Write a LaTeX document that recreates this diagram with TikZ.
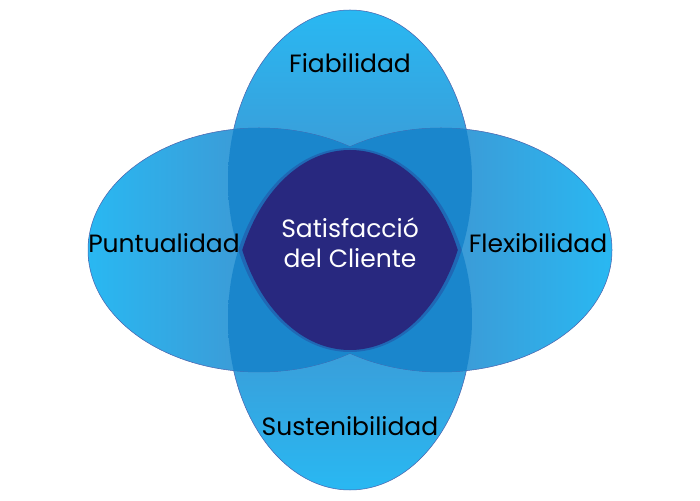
\documentclass[tikz,border=0pt]{standalone}
\usepackage{fontspec}
\setmainfont{Poppins}
\definecolor{cout}{RGB}{41,184,242}
\definecolor{cin}{RGB}{82,120,182}
\definecolor{ovA}{RGB}{26,134,204}
\definecolor{ovB}{RGB}{38,76,158}
\definecolor{band}{RGB}{31,104,181}
\definecolor{navy}{RGB}{40,40,127}
\definecolor{edge}{RGB}{73,96,172}
\tikzset{
  petal/.style={draw=edge, line width=0.5pt},
  lbl/.style={anchor=base, font=\fontsize{25}{30}\selectfont, text=black, inner sep=0pt},
  clbl/.style={anchor=base, font=\fontsize{25}{30}\selectfont, text=white, inner sep=0pt}
}
\begin{document}
\begin{tikzpicture}[x=1pt,y=1pt]
\useasboundingbox[fill=white] (0,0) rectangle (700,500);
% petals (lone parts)
\shade[petal, top color=cout, bottom color=cin] (350,319) ellipse [x radius=122, y radius=171];
\shade[petal, bottom color=cout, top color=cin] (350,181) ellipse [x radius=122, y radius=171];
\shade[petal, left color=cout, right color=cin] (259,250) ellipse [x radius=171, y radius=122];
\shade[petal, right color=cout, left color=cin] (441,250) ellipse [x radius=171, y radius=122];
% top petal over side petals
\begin{scope}
  \clip (350,319) ellipse [x radius=122, y radius=171];
  \clip (259,250) ellipse [x radius=171, y radius=122] (441,250) ellipse [x radius=171, y radius=122];
  \shade[left color=ovA, middle color=ovB, right color=ovA] (228,100) rectangle (472,500);
\end{scope}
% bottom petal over side petals
\begin{scope}
  \clip (350,181) ellipse [x radius=122, y radius=171];
  \clip (259,250) ellipse [x radius=171, y radius=122] (441,250) ellipse [x radius=171, y radius=122];
  \shade[left color=ovA, middle color=ovB, right color=ovA] (228,0) rectangle (472,400);
\end{scope}
% centre
\begin{scope}
  \clip (350,319) ellipse [x radius=122, y radius=171];
  \fill[band] (350,181) ellipse [x radius=122, y radius=171];
\end{scope}
\begin{scope}
  \clip (350,319) ellipse [x radius=118, y radius=169];
  \fill[navy] (350,181) ellipse [x radius=118, y radius=169];
\end{scope}
% labels
\node[lbl] (fia) at (350,427) {Fiabilidad};
\node[lbl] (pun) at (164,247) {Puntualidad};
\node[lbl] (fle) at (538,247) {Flexibilidad};
\node[lbl] (sus) at (350,65) {Sustenibilidad};
\node[clbl] (sat) at (350,262) {Satisfacció};
\node[clbl] (cli) at (350,232) {del Cliente};
\end{tikzpicture}
\end{document}
